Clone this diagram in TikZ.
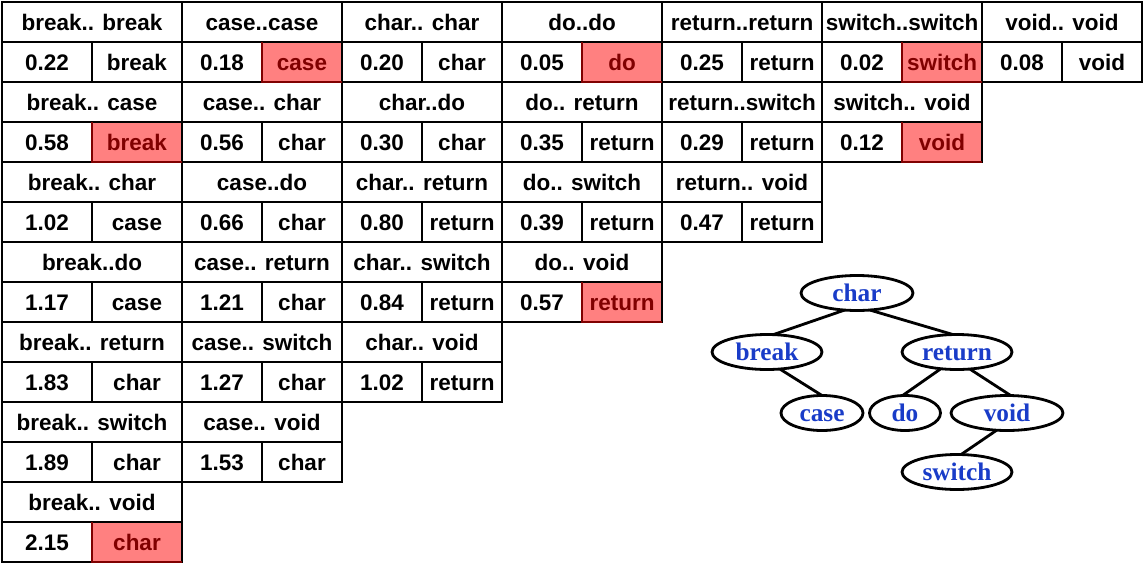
\documentclass[tikz,border=0pt]{standalone}
\usepackage{fontspec}
\setmainfont{Liberation Sans}
\newfontfamily\treefont{Liberation Serif}
\usetikzlibrary{shapes.geometric}
\definecolor{hitred}{RGB}{255, 128, 128}
\definecolor{hitdark}{RGB}{128, 0, 0}
\definecolor{treeblue}{RGB}{25, 60, 200}

\begin{document}
\begin{tikzpicture}[
        cell/.style={rectangle, draw=black, line width=2pt, minimum height=1cm, inner sep=0pt, outer sep=0pt, text height=11.5pt, text depth=0pt, font=\fontsize{16}{19}\selectfont\bfseries},
        pairhead/.style={cell, minimum width=4cm},
        widehead/.style={cell, minimum width=4.5cm},
        val/.style={cell, minimum width=2cm},
        wideval/.style={cell, minimum width=2.25cm},
        hit/.style={fill=hitred, text=hitdark},
        hitedge/.style={line width=2pt, draw=hitdark},
        word/.style={ellipse, draw=black, line width=2pt, minimum width=2.8cm, minimum height=0.875cm, inner sep=0pt, outer sep=0pt, text height=12pt, text depth=0pt, text=treeblue, font=\treefont\fontsize{18}{20}\selectfont\bfseries},
        branch/.style={line width=2pt}
    ]
    \useasboundingbox (0,0) rectangle (28.6,-14.225);

    % First column - break..
    \node[widehead] (brbr) at (2.3,-0.55) {break.. break};
    \node[wideval] (brbr-d) at (1.175,-1.55) {0.22}; \node[wideval] (brbr-w) at (3.425,-1.55) {break};
    \node[widehead] (brca) at (2.3,-2.55) {break.. case};
    \node[wideval] (brca-d) at (1.175,-3.55) {0.58}; \node[wideval, hit] (brca-w) at (3.425,-3.55) {break};
    \node[widehead] (brch) at (2.3,-4.55) {break.. char};
    \node[wideval] (brch-d) at (1.175,-5.55) {1.02}; \node[wideval] (brch-w) at (3.425,-5.55) {case};
    \node[widehead] (brdo) at (2.3,-6.55) {break..do};
    \node[wideval] (brdo-d) at (1.175,-7.55) {1.17}; \node[wideval] (brdo-w) at (3.425,-7.55) {case};
    \node[widehead] (brre) at (2.3,-8.55) {break.. return};
    \node[wideval] (brre-d) at (1.175,-9.55) {1.83}; \node[wideval] (brre-w) at (3.425,-9.55) {char};
    \node[widehead] (brsw) at (2.3,-10.55) {break.. switch};
    \node[wideval] (brsw-d) at (1.175,-11.55) {1.89}; \node[wideval] (brsw-w) at (3.425,-11.55) {char};
    \node[widehead] (brvo) at (2.3,-12.55) {break.. void};
    \node[wideval] (brvo-d) at (1.175,-13.55) {2.15}; \node[wideval, hit] (brvo-w) at (3.425,-13.55) {char};

    % Second column - case..
    \node[pairhead] (caca) at (6.55,-0.55) {case..case};
    \node[val] (caca-d) at (5.55,-1.55) {0.18}; \node[val, hit] (caca-w) at (7.55,-1.55) {case};
    \node[pairhead] (cach) at (6.55,-2.55) {case.. char};
    \node[val] (cach-d) at (5.55,-3.55) {0.56}; \node[val] (cach-w) at (7.55,-3.55) {char};
    \node[pairhead] (cado) at (6.55,-4.55) {case..do};
    \node[val] (cado-d) at (5.55,-5.55) {0.66}; \node[val] (cado-w) at (7.55,-5.55) {char};
    \node[pairhead] (care) at (6.55,-6.55) {case.. return};
    \node[val] (care-d) at (5.55,-7.55) {1.21}; \node[val] (care-w) at (7.55,-7.55) {char};
    \node[pairhead] (casw) at (6.55,-8.55) {case.. switch};
    \node[val] (casw-d) at (5.55,-9.55) {1.27}; \node[val] (casw-w) at (7.55,-9.55) {char};
    \node[pairhead] (cavo) at (6.55,-10.55) {case.. void};
    \node[val] (cavo-d) at (5.55,-11.55) {1.53}; \node[val] (cavo-w) at (7.55,-11.55) {char};

    % Third column - char..
    \node[pairhead] (chch) at (10.55,-0.55) {char.. char};
    \node[val] (chch-d) at (9.55,-1.55) {0.20}; \node[val] (chch-w) at (11.55,-1.55) {char};
    \node[pairhead] (chdo) at (10.55,-2.55) {char..do};
    \node[val] (chdo-d) at (9.55,-3.55) {0.30}; \node[val] (chdo-w) at (11.55,-3.55) {char};
    \node[pairhead] (chre) at (10.55,-4.55) {char.. return};
    \node[val] (chre-d) at (9.55,-5.55) {0.80}; \node[val] (chre-w) at (11.55,-5.55) {return};
    \node[pairhead] (chsw) at (10.55,-6.55) {char.. switch};
    \node[val] (chsw-d) at (9.55,-7.55) {0.84}; \node[val] (chsw-w) at (11.55,-7.55) {return};
    \node[pairhead] (chvo) at (10.55,-8.55) {char.. void};
    \node[val] (chvo-d) at (9.55,-9.55) {1.02}; \node[val] (chvo-w) at (11.55,-9.55) {return};

    % Fourth column - do..
    \node[pairhead] (dodo) at (14.55,-0.55) {do..do};
    \node[val] (dodo-d) at (13.55,-1.55) {0.05}; \node[val, hit] (dodo-w) at (15.55,-1.55) {do};
    \node[pairhead] (dore) at (14.55,-2.55) {do.. return};
    \node[val] (dore-d) at (13.55,-3.55) {0.35}; \node[val] (dore-w) at (15.55,-3.55) {return};
    \node[pairhead] (dosw) at (14.55,-4.55) {do.. switch};
    \node[val] (dosw-d) at (13.55,-5.55) {0.39}; \node[val] (dosw-w) at (15.55,-5.55) {return};
    \node[pairhead] (dovo) at (14.55,-6.55) {do.. void};
    \node[val] (dovo-d) at (13.55,-7.55) {0.57}; \node[val, hit] (dovo-w) at (15.55,-7.55) {return};

    % Fifth column - return..
    \node[pairhead] (rere) at (18.55,-0.55) {return..return};
    \node[val] (rere-d) at (17.55,-1.55) {0.25}; \node[val] (rere-w) at (19.55,-1.55) {return};
    \node[pairhead] (resw) at (18.55,-2.55) {return..switch};
    \node[val] (resw-d) at (17.55,-3.55) {0.29}; \node[val] (resw-w) at (19.55,-3.55) {return};
    \node[pairhead] (revo) at (18.55,-4.55) {return.. void};
    \node[val] (revo-d) at (17.55,-5.55) {0.47}; \node[val] (revo-w) at (19.55,-5.55) {return};

    % Sixth and seventh column - switch.., void..
    \node[pairhead] (swsw) at (22.55,-0.55) {switch..switch};
    \node[val] (swsw-d) at (21.55,-1.55) {0.02}; \node[val, hit] (swsw-w) at (23.55,-1.55) {switch};
    \node[pairhead] (swvo) at (22.55,-2.55) {switch.. void};
    \node[val] (swvo-d) at (21.55,-3.55) {0.12}; \node[val, hit] (swvo-w) at (23.55,-3.55) {void};
    \node[pairhead] (vovo) at (26.55,-0.55) {void.. void};
    \node[val] (vovo-d) at (25.55,-1.55) {0.08}; \node[val] (vovo-w) at (27.55,-1.55) {void};

    % dark edges of the chosen roots
    \draw[hitedge] (brca-w.north west) |- (brca-w.south east);
    \draw[hitedge] (brvo-w.north west) |- (brvo-w.south east);
    \draw[hitedge] (caca-w.north west) |- (caca-w.south east);
    \draw[hitedge] (dodo-w.north west) |- (dodo-w.south east);
    \draw[hitedge] (dovo-w.north west) |- (dovo-w.south east);
    \draw[hitedge] (swsw-w.north west) |- (swsw-w.south east);
    \draw[hitedge] (swvo-w.north west) |- (swvo-w.south east);

    % Resulting tree
    \node[word] (char) at (21.425,-7.325) {char};
    \node[word, minimum width=2.75cm] (break) at (19.175,-8.8) {break};
    \node[word, minimum width=2.75cm] (return) at (23.925,-8.8) {return};
    \node[word, minimum width=2.05cm] (case) at (20.55,-10.325) {case};
    \node[word, minimum width=1.775cm] (do) at (22.625,-10.325) {do};
    \node[word] (void) at (25.175,-10.325) {void};
    \node[word, minimum width=2.75cm] (switch) at (23.925,-11.8) {switch};

    \draw[branch] (char.234) -- (break.70);
    \draw[branch] (char.307) -- (return.103);
    \draw[branch] (break.307) -- (case.90);
    \draw[branch] (return.226) -- (do.98);
    \draw[branch] (return.307) -- (void.78);
    \draw[branch] (void.239) -- (switch.77);

\end{tikzpicture}
\end{document}
